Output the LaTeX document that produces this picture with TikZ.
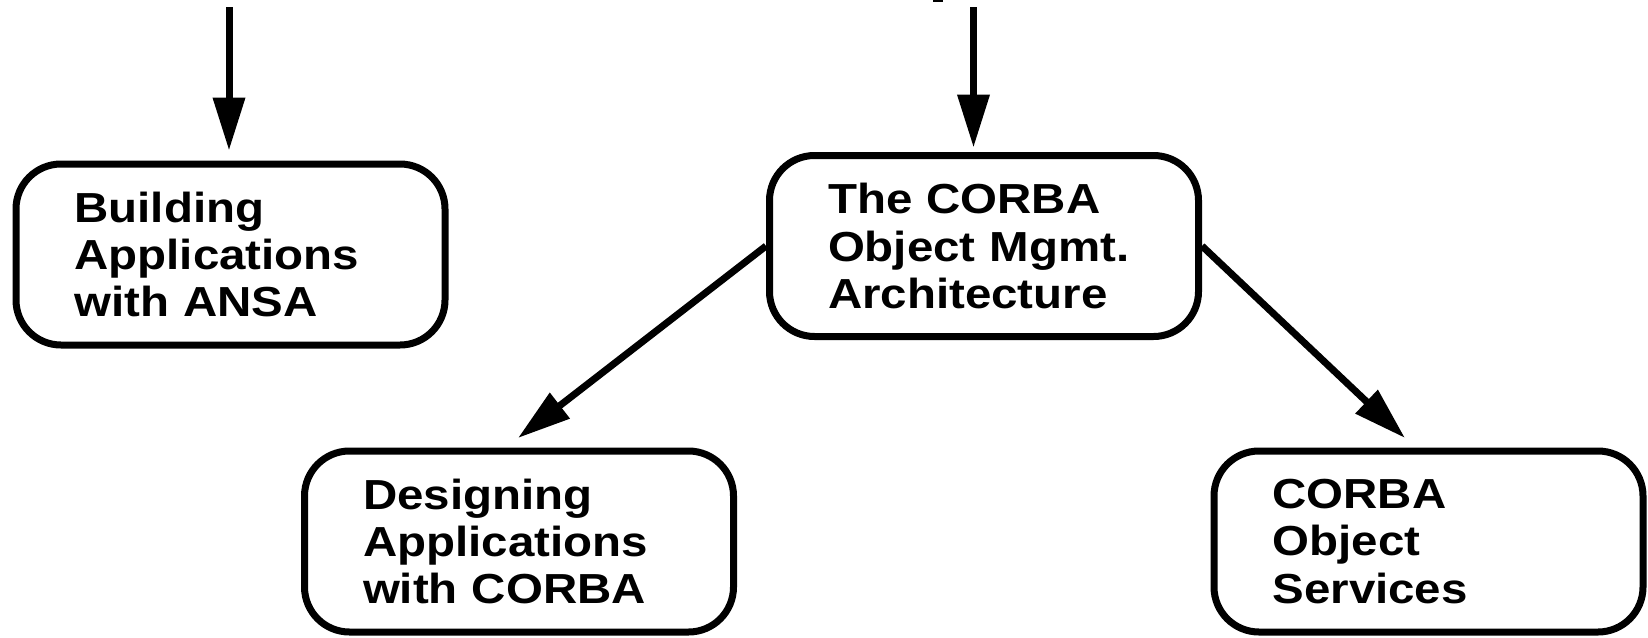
\documentclass[tikz,border=0pt]{standalone}
\usepackage{fontspec}
\newfontfamily\boxfont{Liberation Sans}[FakeStretch=1.13]
\usetikzlibrary{arrows.meta}

\begin{document}
\begin{tikzpicture}[x=0.5pt,y=-0.5pt,
    topic/.style={draw, line width=3.5pt, rounded corners=22.5pt,
        text width=156pt, inner xsep=29.25pt, minimum height=90.5pt,
        align=left, font=\boxfont\bfseries\fontsize{21}{23.6}\selectfont},
    link/.style={line width=3.5pt, -{Triangle[length=26.5pt,width=15.5pt]}}]
    \useasboundingbox (0,0) rectangle (1648,637);

    \node[topic] (ansa) at (230.5,254.5) {Building\\Applications\\with ANSA};
    \node[topic] (oma) at (984,246) {The CORBA\\Object Mgmt.\\Architecture};
    \node[topic] (designing) at (519,541.5) {Designing\\Applications\\with CORBA};
    \node[topic] (services) at (1428.5,541.5) {CORBA\\Object\\Services};

    % incoming from above
    \coordinate (inansa) at (229,7);
    \coordinate (inoma) at (973.5,7);
    \fill (933,0) rectangle (943,2);

    \draw[link] (inansa) -- ([yshift=5pt]inansa |- ansa.north);
    \draw[link] (inoma) -- ([yshift=2.25pt]inoma |- oma.north);
    \draw[link] (oma.west) -- ([xshift=-0.5pt,yshift=4.75pt]designing.north);
    \draw[link] (oma.east) -- ([xshift=-11.75pt,yshift=4.75pt]services.north);
\end{tikzpicture}
\end{document}
